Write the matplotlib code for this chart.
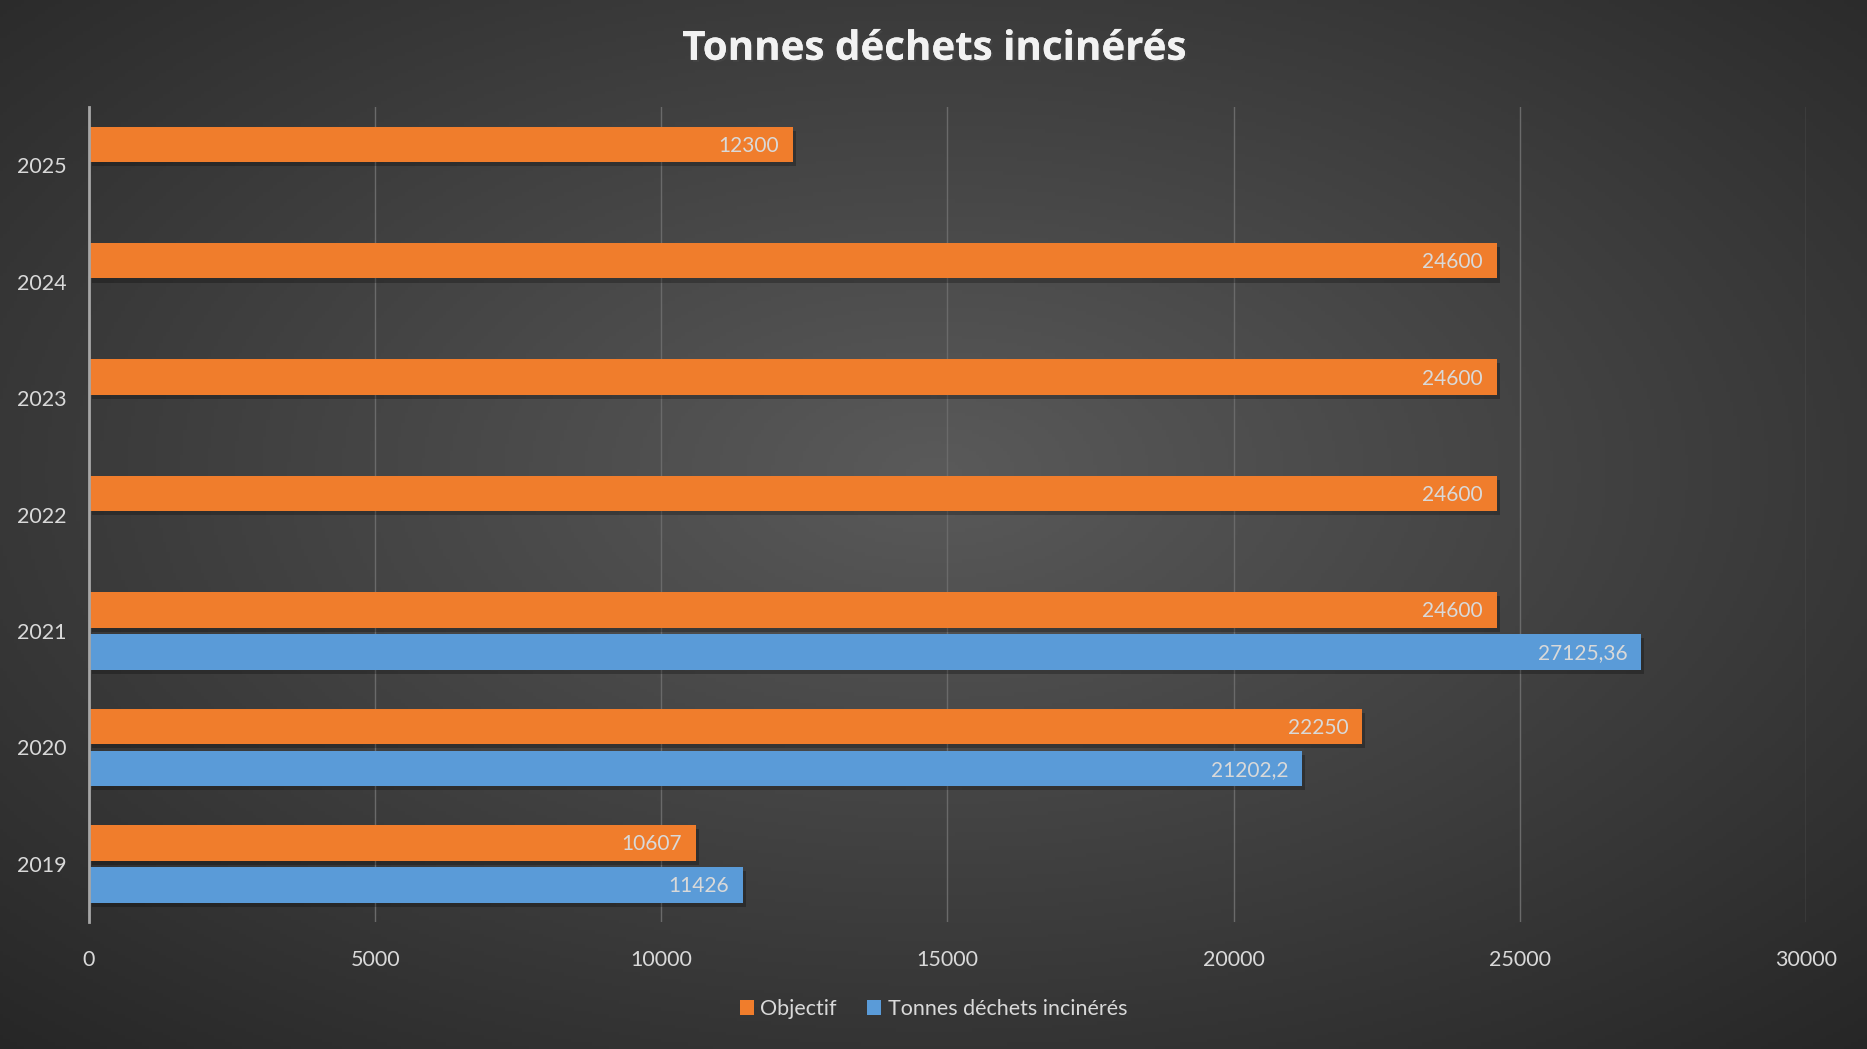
import numpy as np
import matplotlib.pyplot as plt
import matplotlib.patheffects as pe

years = ["2019", "2020", "2021", "2022", "2023", "2024", "2025"]
objectif = [10607, 22250, 24600, 24600, 24600, 24600, 12300]
incineres = [11426, 21202.2, 27125.36, None, None, None, None]
xticks = [0, 5000, 10000, 15000, 20000, 25000, 30000]

orange = "#F07D2C"
blue = "#5A9BD8"
txt = "#D9D9D9"

plt.rcParams['font.family'] = ['Lato', 'DejaVu Sans']

fig = plt.figure(figsize=(18.67, 10.49), dpi=100)

# background radial gradient
bg = fig.add_axes([0, 0, 1, 1], zorder=-10)
yy, xx = np.mgrid[0:1:300j, 0:1:540j]
r = np.sqrt(((xx - 0.5) / 0.75) ** 2 + ((yy - 0.55) / 0.75) ** 2)
r = np.clip(r, 0, 1)
c0 = np.array([0x5a, 0x5a, 0x5a]) / 255
c1 = np.array([0x26, 0x26, 0x26]) / 255
img = c0[None, None, :] * (1 - r[..., None]) + c1[None, None, :] * r[..., None]
bg.imshow(img, extent=[0, 1, 0, 1], aspect="auto", origin="lower")
bg.axis("off")

ax = fig.add_axes([0.0477, 0.121, 0.9195, 0.777])
ax.set_facecolor("none")

pos = np.arange(len(years))
h = 0.305
off = 0.18

# shadows
sh = dict(color="black", alpha=0.25, height=h, zorder=2)
ax.barh(pos + off - 0.035, objectif, left=50, **sh)
inc_vals = [v if v is not None else 0 for v in incineres]
ax.barh(pos - off - 0.035, inc_vals, left=50, **sh)

ax.barh(pos + off, objectif, height=h, color=orange, zorder=3, label="Objectif")
ax.barh(pos - off, inc_vals, height=h, color=blue, zorder=3, label="Tonnes déchets incinérés")

for i, v in enumerate(objectif):
    ax.annotate(str(v).replace(".", ","), (v, pos[i] + off), xytext=(-10, -1),
                textcoords="offset points", ha="right", va="center",
                color=txt, fontsize=15, zorder=4)
for i, v in enumerate(incineres):
    if v is None:
        continue
    ax.annotate(str(v).replace(".", ","), (v, pos[i] - off), xytext=(-10, -1),
                textcoords="offset points", ha="right", va="center",
                color=txt, fontsize=15, zorder=4)

ax.set_xlim(0, 30000)
ax.set_ylim(-0.5, 6.5)
ax.set_xticks(xticks)
ax.set_xticklabels([str(t) for t in xticks])
ax.set_yticks(pos)
ax.set_yticklabels(years)
ax.tick_params(axis="both", length=0, colors=txt, labelsize=15.5)
ax.tick_params(axis="x", pad=20)
ax.tick_params(axis="y", pad=16)
ax.grid(axis="x", color="#6a6a6a", linewidth=1, zorder=0)
ax.set_axisbelow(True)
for s in ["top", "right", "bottom"]:
    ax.spines[s].set_visible(False)
ax.spines["left"].set_color("#a6a6a6")
ax.spines["left"].set_linewidth(2)
ax.spines["left"].set_zorder(5)

handles, labels = ax.get_legend_handles_labels()
leg = fig.legend(handles, labels, loc="center", bbox_to_anchor=(0.5, 0.038), ncol=2,
                 frameon=False, fontsize=15.5, handlelength=0.65, handleheight=0.65,
                 handletextpad=0.3, columnspacing=1.4, labelcolor=txt)

fig.text(0.5, 0.953, "Tonnes déchets incinérés", ha="center", va="center",
         fontsize=29, fontweight="bold", color="#F2F2F2", family=["Open Sans", "DejaVu Sans"],
         path_effects=[pe.withSimplePatchShadow(offset=(1.5, -1.5), alpha=0.6), pe.Normal()])

fig.savefig("out.png", dpi=100)
